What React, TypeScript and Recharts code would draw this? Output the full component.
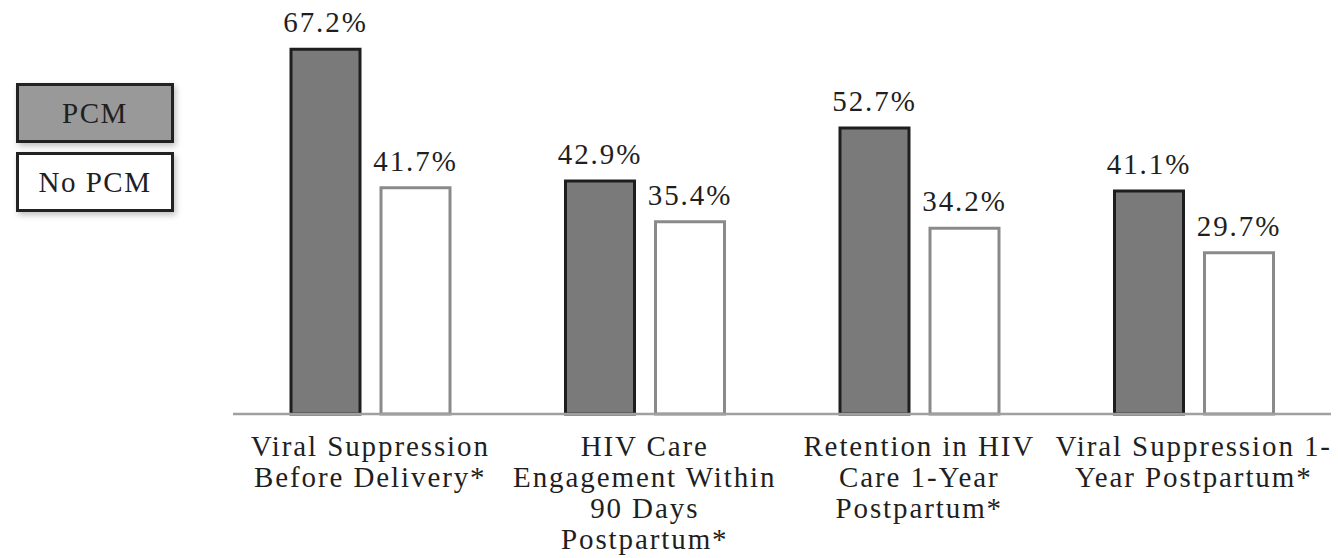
import { BarChart, Bar, XAxis, YAxis, LabelList } from "recharts";

// outcomes on the x axis, line breaks as in the figure
const categories = [
  "Viral Suppression\nBefore Delivery*",
  "HIV Care\nEngagement Within\n90 Days\nPostpartum*",
  "Retention in HIV\nCare 1-Year\nPostpartum*",
  "Viral Suppression 1-\nYear Postpartum*",
];

// percentages per group
const pcmValues = [67.2, 42.9, 52.7, 41.1];
const noPcmValues = [41.7, 35.4, 34.2, 29.7];

const seriesNames = ["PCM", "No PCM"];
const legendFills = ["#999999", "#ffffff"];

const data = categories.map((name, i) => ({
  name,
  pcm: pcmValues[i],
  noPcm: noPcmValues[i],
}));

const FONT = "'Liberation Serif', 'Times New Roman', serif";
const TEXT = "#1f1f1f";

const MultiLineTick = (props: any) => {
  const { x, y, payload } = props;
  const lines = String(payload.value).split("\n");
  return (
    <g transform={`translate(${x},${y})`}>
      {lines.map((line, i) => (
        <text
          key={i}
          x={0}
          y={34 + i * 31}
          textAnchor="middle"
          fill={TEXT}
          fontFamily={FONT}
          fontSize={29}
          letterSpacing={1.9}
        >
          {line}
        </text>
      ))}
    </g>
  );
};

const ValueLabel = (props: any) => {
  const { x, y, width, value } = props;
  return (
    <text
      x={x + width / 2}
      y={y - 17}
      textAnchor="middle"
      fill={TEXT}
      fontFamily={FONT}
      fontSize={29}
      letterSpacing={1.9}
    >
      {value.toFixed(1)}%
    </text>
  );
};

export default function App() {
  return (
    <div style={{ position: "absolute", left: 0, top: 0, width: 1338, height: 558, background: "#fff" }}>
      {/* legend boxes, drawn beside the chart like in the figure */}
      <div style={{ position: "absolute", left: 16, top: 83, fontFamily: FONT }}>
        {seriesNames.map((n, i) => (
          <div
            key={n}
            style={{
              boxSizing: "border-box",
              width: 158,
              height: 60,
              marginBottom: 9,
              border: "3px solid #222",
              background: legendFills[i],
              boxShadow: "2px 3px 6px rgba(0,0,0,0.25)",
              display: "flex",
              alignItems: "center",
              justifyContent: "center",
              fontSize: 29,
              color: TEXT,
              letterSpacing: 1.5,
            }}
          >
            {n}
          </div>
        ))}
      </div>
      <BarChart
        width={1338}
        height={558}
        data={data}
        margin={{ top: 34, right: 7, bottom: 4, left: 233 }}
        barSize={69}
        barGap={21}
      >
        <XAxis
          dataKey="name"
          axisLine={{ stroke: "#a0a0a0", strokeWidth: 2.5 }}
          tickLine={false}
          tick={<MultiLineTick />}
          height={140}
          interval={0}
        />
        <YAxis hide domain={[0, 70]} />
        <Bar
          dataKey="pcm"
          name={seriesNames[0]}
          fill="#7a7a7a"
          stroke="#1e1e1e"
          strokeWidth={3}
          isAnimationActive={false}
        >
          <LabelList dataKey="pcm" content={<ValueLabel />} />
        </Bar>
        <Bar
          dataKey="noPcm"
          name={seriesNames[1]}
          fill="#ffffff"
          stroke="#8a8a8a"
          strokeWidth={3}
          isAnimationActive={false}
        >
          <LabelList dataKey="noPcm" content={<ValueLabel />} />
        </Bar>
      </BarChart>
    </div>
  );
}
